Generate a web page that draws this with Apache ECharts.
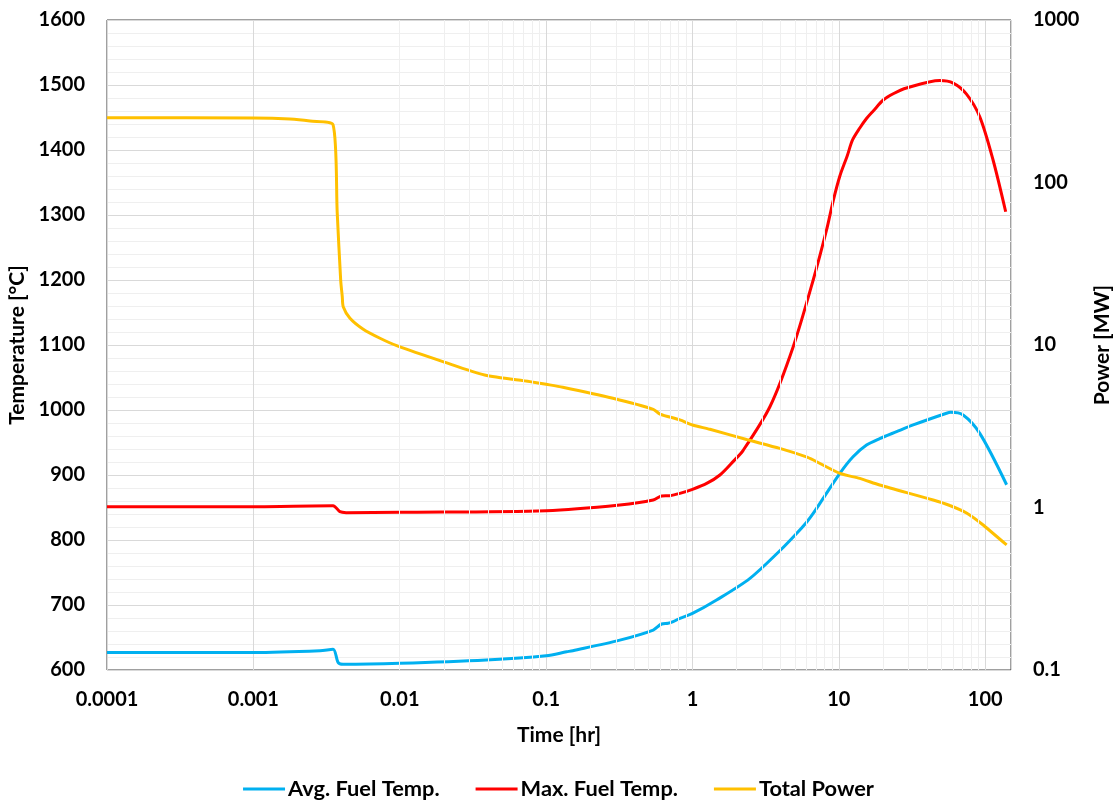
<!DOCTYPE html>
<html><head><meta charset="utf-8">
<script src="https://cdn.jsdelivr.net/npm/echarts@6/dist/echarts.min.js"></script>
<style>html,body{margin:0;padding:0;background:#fff}#c{width:1117px;height:802px}</style>
</head><body><div id="c"></div>
<script>
// ---- tick labels ----
const xTickLabels = ['0.0001','0.001','0.01','0.1','1','10','100'];
const powerTickLabels = ['0.1','1','10','100','1000'];

// ---- Avg. Fuel Temp. ----
const avgTime = [0.0001,0.001,0.00285,0.0035,0.0038,0.0041,0.01,0.039,0.1,0.138,0.152,0.319,0.539,0.615,0.682,0.738,0.82,1.0,1.46,2.47,4.0,5.14,6.0,6.68,7.81,10.16,12.5,15.45,19,24.8,32.2,54.4,58,70.6,91.8,140];
const avgTemp = [627,627,629.7,631.8,611.3,608.8,610.3,615.4,622,628,629.7,646,661.5,670.8,671.8,674.3,679.5,687,707.7,741,784.6,810,827,841,864,902.6,928,946,956,966.7,977,995,996.4,992.3,964,885];

// ---- Max. Fuel Temp. ----
const maxTime = [0.0001,0.001,0.0035,0.0039,0.0043,0.01,0.1,0.319,0.539,0.615,0.70,0.82,1.0,1.25,1.54,1.9,2.22,3.38,4.87,6.68,8.24,9.14,10.16,11.4,12.4,13.9,15.45,17.3,20.1,23.7,29,49,60.4,74.5,91.8,113,138];
const maxTemp = [851.3,851.3,852.8,843.6,842.1,842.6,845.1,853.8,861.5,867.7,868.2,871.8,878,887,900,921,938,1005,1097,1200,1277,1321.5,1360,1390.8,1415.4,1433.8,1448.5,1460.8,1476.9,1486.9,1495.4,1507,1503,1486,1451,1385,1305];

// ---- Total Power ----
const powTime = [0.0001,0.001,0.00178,0.00244,0.0035,0.00374,0.00395,0.00405,0.00411,0.00457,0.00563,0.00733,0.00953,0.0197,0.038,0.0775,0.1,0.13,0.286,0.54,0.60,0.82,1.0,1.315,2.34,3.95,6.0,6.7,10.2,13.9,19,44.1,57.3,74.5,96.8,140];
const powVal = [250,249.5,246,239,227,65,25,19.8,17.2,14.6,12.5,11.0,9.9,7.9,6.54,5.95,5.73,5.5,4.7,4.02,3.76,3.46,3.22,3.03,2.62,2.31,2.05,1.96,1.62,1.51,1.375,1.112,1.029,0.925,0.78,0.588];

const zip = (a, b) => a.map((v, i) => [v, b[i]]);

// minor vertical grid positions (2..9 per decade)
const minorX = [];
for (let d = -4; d <= 2; d++) {
  for (let k = 2; k <= 9; k++) {
    const v = k * Math.pow(10, d);
    if (v < 150) minorX.push({ xAxis: v });
  }
}

const FONT = 'Lato';
function decadeLabel(labels, offset) {
  return function (v) {
    const e = Math.log10(v);
    const r = Math.round(e);
    if (Math.abs(e - r) > 1e-6) return '';
    return labels[r + offset] || '';
  };
}

const chart = echarts.init(document.getElementById('c'), null, { renderer: 'canvas' });
chart.setOption({
  animation: false,
  backgroundColor: '#fff',
  textStyle: { fontFamily: FONT },
  grid: { left: 107, top: 20, right: 106, bottom: 132, show: true, borderColor: '#404040', borderWidth: 1, backgroundColor: 'transparent', containLabel: false, outerBoundsMode: 'none' },
  legend: {
    top: 773, left: 'center', itemWidth: 42, itemHeight: 3, itemGap: 36, icon: 'rect',
    textStyle: { fontFamily: FONT, fontWeight: 'bold', fontSize: 21.8, color: '#000', padding: [0, 0, 0, -2] },
    data: ['Avg. Fuel Temp.', 'Max. Fuel Temp.', 'Total Power']
  },
  xAxis: {
    type: 'log', logBase: 10, min: 0.0001, max: 150,
    name: 'Time [hr]', nameLocation: 'middle', nameGap: 55,
    nameTextStyle: { fontFamily: FONT, fontWeight: 'bold', fontSize: 21, color: '#000' },
    axisLine: { show: false }, axisTick: { show: false },
    axisLabel: { formatter: decadeLabel(xTickLabels, 4), fontFamily: FONT, fontWeight: 'bold', fontSize: 20, color: '#000', margin: 20, showMaxLabel: false },
    splitLine: { show: true, lineStyle: { color: '#D9D9D9', width: 1 } }
  },
  yAxis: [
    {
      type: 'value', min: 600, max: 1600, interval: 100, position: 'left',
      name: 'Temperature [°C]', nameLocation: 'middle', nameGap: 76, nameRotate: 90,
      nameTextStyle: { fontFamily: FONT, fontWeight: 'bold', fontSize: 21, color: '#000' },
      axisLine: { show: false }, axisTick: { show: false },
      axisLabel: { formatter: function (v) { return String(v); }, fontFamily: FONT, fontWeight: 'bold', fontSize: 20, color: '#000', margin: 22 },
      splitLine: { show: true, lineStyle: { color: '#D9D9D9', width: 1 } },
      minorTick: { show: false, splitNumber: 5 },
      minorSplitLine: { show: true, lineStyle: { color: '#EFEFEF', width: 1 } }
    },
    {
      type: 'log', logBase: 10, min: 0.1, max: 1000, position: 'right',
      name: 'Power [MW]', nameLocation: 'middle', nameGap: 81, nameRotate: 90,
      nameTextStyle: { fontFamily: FONT, fontWeight: 'bold', fontSize: 21, color: '#000' },
      axisLine: { show: false }, axisTick: { show: false },
      axisLabel: { formatter: decadeLabel(powerTickLabels, 1), fontFamily: FONT, fontWeight: 'bold', fontSize: 20, color: '#000', margin: 22 },
      splitLine: { show: false }
    }
  ],
  series: [
    {
      type: 'line', name: '_grid', data: [], z: 1, silent: true,
      markLine: { silent: true, symbol: ['none', 'none'], label: { show: false }, animation: false,
        lineStyle: { type: 'solid', color: '#EFEFEF', width: 1 }, data: minorX }
    },
    { type: 'line', name: 'Avg. Fuel Temp.', yAxisIndex: 0, data: zip(avgTime, avgTemp), showSymbol: false, symbol: 'none', smooth: 0.3, lineStyle: { color: '#00B0F0', width: 3 }, itemStyle: { color: '#00B0F0' }, z: 3 },
    { type: 'line', name: 'Max. Fuel Temp.', yAxisIndex: 0, data: zip(maxTime, maxTemp), showSymbol: false, symbol: 'none', smooth: 0.3, lineStyle: { color: '#FF0000', width: 3 }, itemStyle: { color: '#FF0000' }, z: 3 },
    { type: 'line', name: 'Total Power', yAxisIndex: 1, data: zip(powTime, powVal), showSymbol: false, symbol: 'none', smooth: 0.25, lineStyle: { color: '#FFC000', width: 3 }, itemStyle: { color: '#FFC000' }, z: 3 }
  ]
});
</script>
</body></html>
